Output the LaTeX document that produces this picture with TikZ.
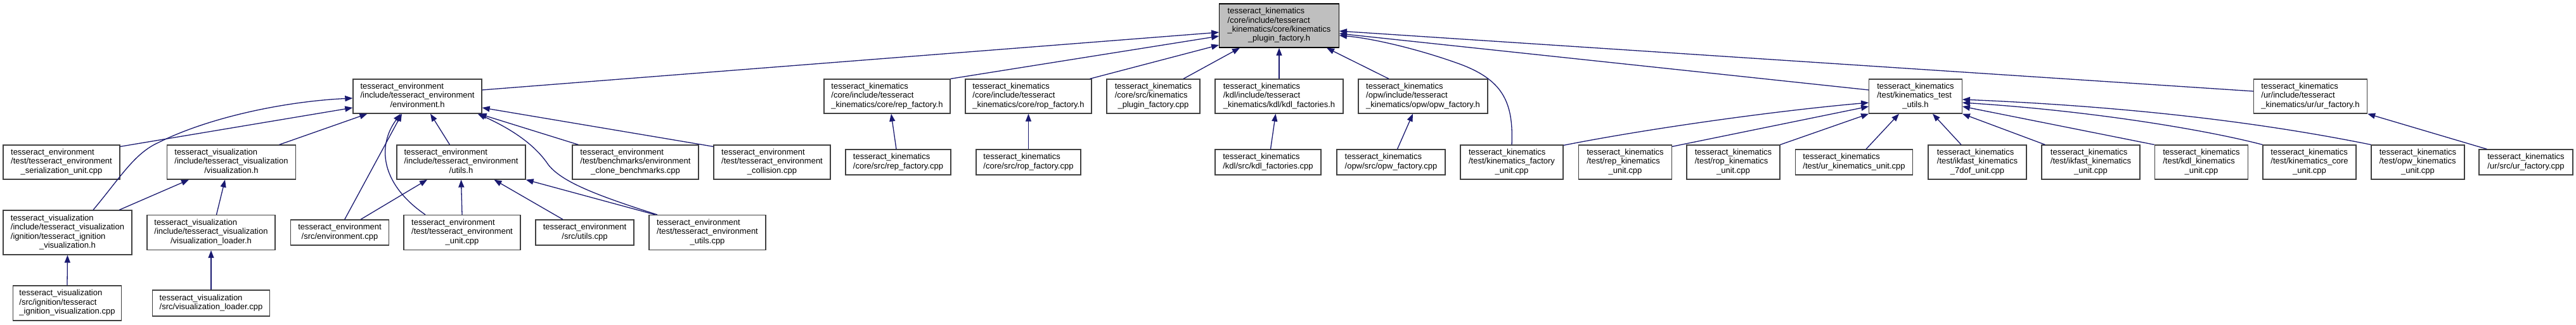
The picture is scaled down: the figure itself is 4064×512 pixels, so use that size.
\documentclass[tikz,border=0pt]{standalone}
\usepackage{fontspec}
\setmainfont{Liberation Sans}
\usetikzlibrary{arrows.meta}
\definecolor{midnight}{HTML}{191970}
\definecolor{gtwentyfive}{HTML}{404040}
\definecolor{gseventyfive}{HTML}{BFBFBF}
\newcommand\lastln[1]{\multicolumn{1}{@{}c@{}}{#1}}
\newcommand\bx[6]{\node[nbox, minimum width=#4pt, minimum height=#5pt] (#1) at (#2,#3) {\begin{tabular}{@{}l@{}}#6\end{tabular}};}
\tikzset{
  nbox/.style={draw=gtwentyfive, line width=1.3pt, fill=white, inner sep=0pt, font=\fontsize{13pt}{14.4pt}\selectfont},
  dep/.style={draw=midnight, line width=1.3pt, -{Triangle[length=12pt,width=9pt]}}
}
\begin{document}
\begin{tikzpicture}[x=1pt,y=-1pt]
\fill[white] (0,0) rectangle (4064,512);
\useasboundingbox (0,0) rectangle (4064,512);
% rank 0
\node[nbox, draw=black, fill=gseventyfive, minimum width=188.5pt, minimum height=69pt] (top) at (2018,40.5) {\begin{tabular}{@{}l@{}}tesseract\_kinematics\\/core/include/tesseract\\\_kinematics/core/kinematics\\\lastln{\_plugin\_factory.h}\end{tabular}};
% rank 1
\bx{env}{658.5}{152}{203}{54}{tesseract\_environment\\/include/tesseract\_environment\\\lastln{/environment.h}}
\bx{reph}{1399.5}{152}{199}{54}{tesseract\_kinematics\\/core/include/tesseract\\\lastln{\_kinematics/core/rep\_factory.h}}
\bx{roph}{1622.5}{152}{199}{54}{tesseract\_kinematics\\/core/include/tesseract\\\lastln{\_kinematics/core/rop\_factory.h}}
\bx{pfcpp}{1819.5}{152}{147}{54}{tesseract\_kinematics\\/core/src/kinematics\\\lastln{\_plugin\_factory.cpp}}
\bx{kdlh}{2018}{152}{202}{54}{tesseract\_kinematics\\/kdl/include/tesseract\\\lastln{\_kinematics/kdl/kdl\_factories.h}}
\bx{opwh}{2245}{152}{204}{54}{tesseract\_kinematics\\/opw/include/tesseract\\\lastln{\_kinematics/opw/opw\_factory.h}}
\bx{tuh}{3022}{152}{146.5}{54}{tesseract\_kinematics\\/test/kinematics\_test\\\lastln{\_utils.h}}
\bx{urh}{3645}{152}{179}{54}{tesseract\_kinematics\\/ur/include/tesseract\\\lastln{\_kinematics/ur/ur\_factory.h}}
% rank 2
\bx{ser}{97}{256}{184}{54}{tesseract\_environment\\/test/tesseract\_environment\\\lastln{\_serialization\_unit.cpp}}
\bx{vish}{365}{256}{202.5}{54}{tesseract\_visualization\\/include/tesseract\_visualization\\\lastln{/visualization.h}}
\bx{utilsh}{727.5}{256}{203}{54}{tesseract\_environment\\/include/tesseract\_environment\\\lastln{/utils.h}}
\bx{bench}{1002.5}{256}{199}{54}{tesseract\_environment\\/test/benchmarks/environment\\\lastln{\_clone\_benchmarks.cpp}}
\bx{coll}{1218}{256}{184}{54}{tesseract\_environment\\/test/tesseract\_environment\\\lastln{\_collision.cpp}}
\bx{repcpp}{1417}{256}{166}{40}{tesseract\_kinematics\\\lastln{/core/src/rep\_factory.cpp}}
\bx{ropcpp}{1622.5}{256}{165}{40}{tesseract\_kinematics\\\lastln{/core/src/rop\_factory.cpp}}
\bx{kdlcpp}{2000.5}{256}{167}{40}{tesseract\_kinematics\\\lastln{/kdl/src/kdl\_factories.cpp}}
\bx{opwcpp}{2194.5}{256}{171}{40}{tesseract\_kinematics\\\lastln{/opw/src/opw\_factory.cpp}}
\bx{kfu}{2385}{256}{162}{54}{tesseract\_kinematics\\/test/kinematics\_factory\\\lastln{\_unit.cpp}}
\bx{repk}{2564}{256}{146.5}{54}{tesseract\_kinematics\\/test/rep\_kinematics\\\lastln{\_unit.cpp}}
\bx{ropk}{2734.5}{256}{147}{54}{tesseract\_kinematics\\/test/rop\_kinematics\\\lastln{\_unit.cpp}}
\bx{urk}{2925}{256}{185.5}{40}{tesseract\_kinematics\\\lastln{/test/ur\_kinematics\_unit.cpp}}
\bx{ik7}{3119.5}{256}{155}{54}{tesseract\_kinematics\\/test/ikfast\_kinematics\\\lastln{\_7dof\_unit.cpp}}
\bx{iku}{3298.5}{256}{155}{54}{tesseract\_kinematics\\/test/ikfast\_kinematics\\\lastln{\_unit.cpp}}
\bx{kdlk}{3473}{256}{147.5}{54}{tesseract\_kinematics\\/test/kdl\_kinematics\\\lastln{\_unit.cpp}}
\bx{corek}{3643.5}{256}{147}{54}{tesseract\_kinematics\\/test/kinematics\_core\\\lastln{\_unit.cpp}}
\bx{opwk}{3814.5}{256}{147}{54}{tesseract\_kinematics\\/test/opw\_kinematics\\\lastln{\_unit.cpp}}
\bx{urcpp}{3985}{256}{148}{40}{tesseract\_kinematics\\\lastln{/ur/src/ur\_factory.cpp}}
% rank 3
\bx{ignh}{106.5}{367}{203}{70}{tesseract\_visualization\\/include/tesseract\_visualization\\/ignition/tesseract\_ignition\\\lastln{\_visualization.h}}
\bx{vlh}{333}{367}{202}{55}{tesseract\_visualization\\/include/tesseract\_visualization\\\lastln{/visualization\_loader.h}}
\bx{envcpp}{536}{367}{154.5}{40}{tesseract\_environment\\\lastln{/src/environment.cpp}}
\bx{envunit}{729}{367}{184}{55}{tesseract\_environment\\/test/tesseract\_environment\\\lastln{\_unit.cpp}}
\bx{sutils}{922.5}{367}{155}{40}{tesseract\_environment\\\lastln{/src/utils.cpp}}
\bx{tutils}{1116}{367}{184}{55}{tesseract\_environment\\/test/tesseract\_environment\\\lastln{\_utils.cpp}}
% rank 4
\bx{igncpp}{106}{478.5}{171.5}{55}{tesseract\_visualization\\/src/ignition/tesseract\\\lastln{\_ignition\_visualization.cpp}}
\bx{vlcpp}{333}{478.5}{185.5}{41}{tesseract\_visualization\\\lastln{/src/visualization\_loader.cpp}}
% edges to top
\draw[dep] ([yshift=10pt]env.east) -- ([yshift=-10.5pt]top.west);
\draw[dep] (reph.north east) -- ([yshift=-16.5pt]top.west);
\draw[dep] ([xshift=97pt]roph.north) -- ([yshift=-30.5pt]top.west);
\draw[dep] ([xshift=47.5pt]pfcpp.north) -- ([xshift=-62pt]top.south);
\draw[dep] (kdlh.north) -- (top.south);
\draw[dep] ([xshift=-54pt]opwh.north) -- ([xshift=75pt]top.south);
\draw[dep] (kfu.north) .. controls (2388,160) and (2370,125) .. (2300,100) .. controls (2230,75) and (2160,60) .. ([yshift=-15.5pt]top.east);
\draw[dep] ([yshift=10pt]tuh.west) -- ([yshift=-12.5pt]top.east);
\draw[dep] ([yshift=8pt]urh.west) -- ([yshift=-8.5pt]top.east);
% edges to environment.h
\draw[dep] ([yshift=-3pt]ser.north east) -- ([yshift=-18pt]env.west);
\draw[dep] ([xshift=40.5pt]ignh.north) .. controls (190,280) and (212,242) .. (250,225) .. controls (330,185) and (450,160) .. ([yshift=-3pt]env.west);
\draw[dep] ([xshift=75.6pt]vish.north) -- ([xshift=23pt]env.south west);
\draw[dep] ([xshift=-18pt]utilsh.north) -- ([xshift=20.5pt]env.south);
\draw[dep] ([xshift=7.75pt]envcpp.north) -- ([xshift=-24.5pt]env.south);
\draw[dep] ([xshift=-58pt]envunit.north) .. controls (600,290) and (595,230) .. ([xshift=-26.5pt]env.south);
\draw[dep] ([xshift=10pt]bench.north west) -- ([xshift=-5pt]env.south east);
\draw[dep] ([yshift=-3pt]coll.north west) -- ([yshift=-18pt]env.east);
\draw[dep] ([xshift=13.5pt]tutils.north west) .. controls (930,305) and (885,285) .. (865,260) .. controls (845,230) and (810,205) .. ([xshift=-7pt]env.south east);
% visualization
\draw[dep] ([xshift=-20.5pt]ignh.north east) -- ([xshift=35pt]vish.south west);
\draw[dep] ([xshift=8.5pt]vlh.north) -- ([xshift=-10pt]vish.south);
\draw[dep] (igncpp.north) -- (ignh.south);
\draw[dep] (vlcpp.north) -- (vlh.south);
% utils.h
\draw[dep] ([xshift=33pt]envcpp.north) -- ([xshift=-53.5pt]utilsh.south);
\draw[dep] (envunit.north) -- (utilsh.south);
\draw[dep] ([xshift=-34.5pt]sutils.north) -- ([xshift=52pt]utilsh.south);
\draw[dep] ([xshift=10pt]tutils.north west) -- (utilsh.south east);
% kinematics factories
\draw[dep] ([xshift=-3pt]repcpp.north) -- ([xshift=6.5pt]reph.south);
\draw[dep] (ropcpp.north) -- (roph.south);
\draw[dep] ([xshift=4pt]kdlcpp.north) -- ([xshift=-5.5pt]kdlh.south);
\draw[dep] ([xshift=10pt]opwcpp.north) -- ([xshift=-16pt]opwh.south);
% kinematics_test_utils.h
\draw[dep] ([yshift=-1pt]kfu.north east) .. controls (2600,203) and (2800,175) .. ([yshift=-10pt]tuh.west);
\draw[dep] ([yshift=-3pt]repk.north east) -- ([yshift=-16pt]tuh.west);
\draw[dep] (ropk.north east) -- (tuh.south west);
\draw[dep] ([xshift=19pt]urk.north) -- ([xshift=-26pt]tuh.south);
\draw[dep] ([xshift=-25.5pt]ik7.north) -- ([xshift=27pt]tuh.south);
\draw[dep] ([xshift=6pt]iku.north west) -- (tuh.south east);
\draw[dep] (kdlk.north west) -- ([yshift=-16pt]tuh.east);
\draw[dep] (corek.north west) .. controls (3480,205) and (3300,175) .. ([yshift=-10pt]tuh.east);
\draw[dep] (opwk.north west) .. controls (3600,200) and (3400,170) .. ([yshift=-5pt]tuh.east);
% ur
\draw[dep] ([xshift=13pt]urcpp.north west) -- (urh.south east);
\end{tikzpicture}
\end{document}
